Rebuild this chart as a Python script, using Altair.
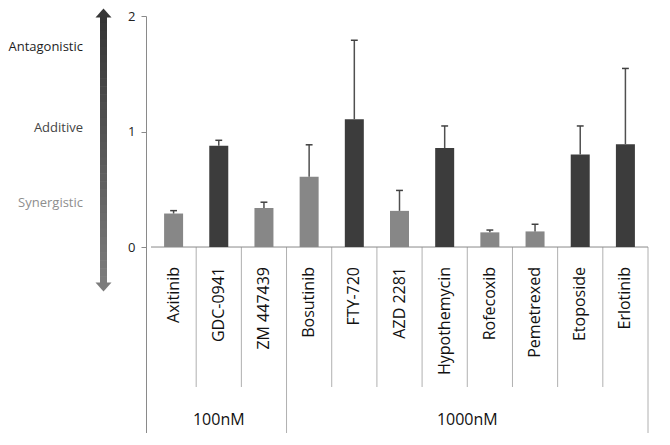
import altair as alt
import pandas as pd

# ---- data ----
drugs = ["Axitinib", "GDC-0941", "ZM 447439", "Bosutinib", "FTY-720", "AZD 2281",
         "Hypothemycin", "Rofecoxib", "Pemetrexed", "Etoposide", "Erlotinib"]
values = [0.29, 0.877, 0.338, 0.608, 1.106, 0.313, 0.857, 0.127, 0.135, 0.80, 0.89]
errors = [0.025, 0.047, 0.05, 0.277, 0.684, 0.177, 0.191, 0.02, 0.062, 0.248, 0.656]
effect = ["light", "dark", "light", "light", "dark", "light", "dark", "light", "light", "dark", "dark"]
groups = ["100nM", "1000nM"]
group_sizes = [3, 8]
scale_labels = ["Antagonistic", "Additive", "Synergistic"]
scale_label_colors = ["#1e1e1e", "#444444", "#8e8e8e"]
y_ticks = [0, 1, 2]

# ---- layout constants ----
FONT = "Open Sans"
W, H = 507, 417
Y_DOMAIN = [-1.61, 2]
N = len(drugs)
label_levels = [1.73, 1.03, 0.38]
PX = H / (Y_DOMAIN[1] - Y_DOMAIN[0])
XPX = W / N
CAP = 3.5 / XPX


def pix_to_val(p):
    return Y_DOMAIN[1] - p / PX


df = pd.DataFrame({
    "drug": drugs,
    "pos": [i + 0.5 for i in range(N)],
    "capl": [i + 0.5 - CAP for i in range(N)],
    "capr": [i + 0.5 + CAP for i in range(N)],
    "value": values,
    "zero": [0.0] * N,
    "top": [v + e for v, e in zip(values, errors)],
    "effect": effect,
})

starts = [sum(group_sizes[:i]) for i in range(len(groups))]
gdf = pd.DataFrame({
    "group": groups,
    "mid": [s + n / 2 for s, n in zip(starts, group_sizes)],
})
group_bounds = [s + n for s, n in zip(starts, group_sizes)]
inner_bounds = [b for b in range(1, N) if b not in group_bounds]
inner_df = pd.DataFrame({"b": inner_bounds, "zero": [0.0] * len(inner_bounds),
                         "end": [pix_to_val(371)] * len(inner_bounds)})
outer_df = pd.DataFrame({"b": group_bounds, "zero": [0.0] * len(group_bounds),
                         "end": [Y_DOMAIN[0]] * len(group_bounds)})
base_df = pd.DataFrame({"xa": [0], "xb": [N], "zero": [0.0]})
up_df = pd.DataFrame({"yy": [pix_to_val(-3)]})
down_df = pd.DataFrame({"yy": [pix_to_val(271)]})

# decorative gradient arrow shaft, built from thin segments
SEG_TOP, SEG_BOT, NSEG = -1, 268, 34
seg_df = pd.DataFrame({
    "a": [pix_to_val(SEG_TOP + (SEG_BOT - SEG_TOP) * i / NSEG) for i in range(NSEG)],
    "b": [pix_to_val(SEG_TOP + (SEG_BOT - SEG_TOP) * (i + 1) / NSEG + 0.6) for i in range(NSEG)],
    "t": [i / (NSEG - 1) for i in range(NSEG)],
})

xs = alt.Scale(domain=[0, N], nice=False, zero=False)
ys = alt.Scale(domain=Y_DOMAIN, nice=False, zero=False)
yaxis = alt.Axis(values=y_ticks, title=None, grid=False, domainColor="#8a8a8a",
                 tickColor="#8a8a8a", tickSize=5, labelFontSize=13, labelColor="#222",
                 labelFont=FONT, labelPadding=6, format="d")


def X(f):
    return alt.X(f, scale=xs, axis=None)


def Y(f):
    return alt.Y(f, scale=ys, axis=yaxis)


base = alt.Chart(df)

bars = base.mark_bar(size=19).encode(
    x=X("pos:Q"), y=Y("value:Q"), y2="zero:Q",
    color=alt.Color("effect:N", scale=alt.Scale(domain=["light", "dark"],
                                                range=["#878787", "#3c3c3c"]), legend=None),
)
err = base.mark_rule(color="#505050", strokeWidth=1.5).encode(
    x=X("pos:Q"), y=Y("value:Q"), y2="top:Q")
caps = base.mark_rule(color="#404040", strokeWidth=1.5).encode(
    x=X("capl:Q"), x2="capr:Q", y=Y("top:Q"))

baseline = alt.Chart(base_df).mark_rule(color="#8a8a8a").encode(
    y=Y("zero:Q"), x=X("xa:Q"), x2="xb:Q")

inner = alt.Chart(inner_df).mark_rule(color="#b0b0b0").encode(
    x=X("b:Q"), y=Y("zero:Q"), y2="end:Q")
outer = alt.Chart(outer_df).mark_rule(color="#b0b0b0").encode(
    x=X("b:Q"), y=Y("zero:Q"), y2="end:Q")

drug_labels = base.mark_text(angle=270, align="right", baseline="middle",
                             fontSize=16, font=FONT, color="#111").encode(
    x=X("pos:Q"), y=alt.value(251), text="drug:N")

group_labels = alt.Chart(gdf).mark_text(fontSize=16, font=FONT, color="#111",
                                        baseline="middle").encode(
    x=X("mid:Q"), y=alt.value(404), text="group:N")

left_layers = []
for lab, col, lev in zip(scale_labels, scale_label_colors, label_levels):
    ldf = pd.DataFrame({"label": [lab], "lev": [lev]})
    left_layers.append(
        alt.Chart(ldf).mark_text(align="right", baseline="middle", fontSize=13,
                                 font=FONT, color=col).encode(
            x=alt.value(-63), y=Y("lev:Q"), text="label:N"))

shaft = alt.Chart(seg_df).mark_rect().encode(
    x=alt.value(-46), x2=alt.value(-39), y=Y("a:Q"), y2="b:Q",
    fill=alt.Fill("t:Q", scale=alt.Scale(domain=[0, 1], range=["#353535", "#7c7c7c"]),
                  legend=None))
head_up = alt.Chart(up_df).mark_point(shape="M -1 0.56 L 0 -0.56 L 1 0.56 Z", size=256,
                                      filled=True, color="#363636", opacity=1).encode(
    x=alt.value(-42.5), y=Y("yy:Q"))
head_down = alt.Chart(down_df).mark_point(shape="M -1 -0.56 L 0 0.56 L 1 -0.56 Z", size=256,
                                          filled=True, color="#7c7c7c", opacity=1).encode(
    x=alt.value(-42.5), y=Y("yy:Q"))

chart = alt.layer(
    inner, outer, baseline, bars, err, caps, drug_labels, group_labels,
    shaft, head_up, head_down, *left_layers
).properties(
    width=W, height=H,
    autosize=alt.AutoSizeParams(type="none"),
    padding={"left": 138, "top": 8, "right": 0, "bottom": 0},
).configure_view(stroke=None)

chart.save("out.html", embed_options={"renderer": "svg", "actions": False})
